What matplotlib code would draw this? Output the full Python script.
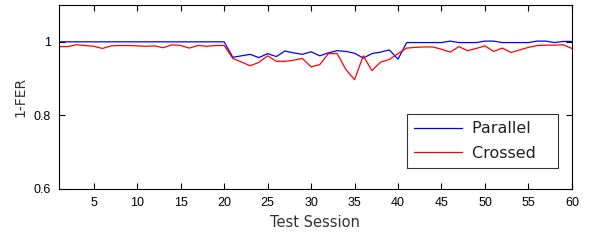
import numpy as np
import matplotlib
matplotlib.use("Agg")
import matplotlib.pyplot as plt

# test sessions 1..60
sessions = list(range(1, 61))

# 1-FER, parallel configuration
parallel = [1.0] * 20 + [
    0.958, 0.962, 0.966, 0.957, 0.968, 0.960, 0.975, 0.970, 0.966, 0.973,
    0.962, 0.970, 0.976, 0.974, 0.969, 0.956, 0.968, 0.972, 0.978, 0.953,
    0.998, 0.998, 0.998, 0.998, 0.998, 1.002, 0.998, 0.998, 0.998, 1.002,
    1.002, 0.998, 0.998, 0.998, 0.998, 1.002, 1.002, 0.998, 1.001, 1.001,
]

# 1-FER, crossed configuration
crossed = [
    0.987, 0.987, 0.992, 0.990, 0.988, 0.982, 0.989, 0.990, 0.990, 0.989,
    0.988, 0.989, 0.984, 0.992, 0.990, 0.983, 0.990, 0.988, 0.990, 0.990,
    0.955, 0.945, 0.935, 0.944, 0.962, 0.947, 0.947, 0.950, 0.955, 0.932,
    0.938, 0.968, 0.968, 0.925, 0.897, 0.962, 0.922, 0.945, 0.952, 0.968,
    0.983, 0.985, 0.986, 0.986, 0.980, 0.972, 0.987, 0.976, 0.982, 0.989,
    0.974, 0.983, 0.971, 0.978, 0.985, 0.990, 0.991, 0.991, 0.992, 0.982,
]

series_labels = ["Parallel", "Crossed"]

xticks = list(range(5, 61, 5))
yticks = [0.6, 0.8, 1.0]
ytick_labels = ["0.6", "0.8", "1"]

plt.rcParams['font.family'] = ['Liberation Sans', 'DejaVu Sans']

fig = plt.figure(figsize=(5.89, 2.41), dpi=100)
ax = fig.add_axes([0.100, 0.216, 0.871, 0.763])

# trailing spaces mimic the wide right margin of the MATLAB legend box
ax.plot(sessions, parallel, color=(0, 0, 1), lw=0.9, label=series_labels[0] + "   ")
ax.plot(sessions, crossed, color=(1, 0, 0), lw=0.9, label=series_labels[1] + "   ")

ax.set_xlim(1, 60)
ax.set_ylim(0.6, 1.1)
ax.set_xticks(xticks)
ax.set_yticks(yticks)
ax.set_yticklabels(ytick_labels)
ax.tick_params(direction='in', length=4, width=0.8, top=True, right=True,
               labelsize=9, pad=6)
for s in ax.spines.values():
    s.set_linewidth(0.8)

ax.set_xlabel("Test Session", fontsize=10.5, family='DejaVu Sans', color='#333333')
ax.set_ylabel("1-FER", fontsize=10, family='DejaVu Sans', color='#333333')

leg = ax.legend(loc='lower right', bbox_to_anchor=(0.973, 0.114), borderaxespad=0,
                frameon=True, fancybox=False, handlelength=3.0, handletextpad=0.6,
                borderpad=0.45, labelspacing=0.6,
                prop={'family': 'DejaVu Sans', 'size': 11.5})
leg.get_frame().set_edgecolor('black')
leg.get_frame().set_linewidth(0.8)
for t in leg.get_texts():
    t.set_color('#222222')

fig.savefig("out.png", dpi=100)
